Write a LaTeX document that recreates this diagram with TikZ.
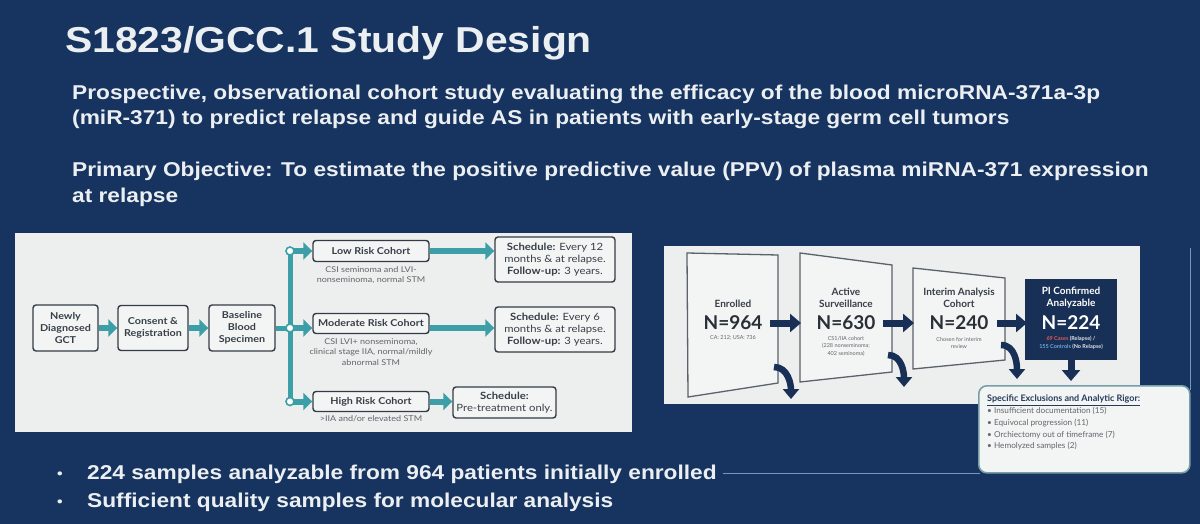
\documentclass[tikz,border=0pt]{standalone}
\usepackage{fontspec}
\setmainfont[FakeStretch=1.135]{Liberation Sans}
\newfontfamily\panelfont[FakeStretch=1.13]{Lato}
\newfontfamily\countfont{Lato}
\usetikzlibrary{arrows.meta,positioning,calc}
\definecolor{slidenavy}{RGB}{22,52,95}
\definecolor{slidetext}{RGB}{236,239,242}
\definecolor{panelgray}{RGB}{237,238,238}
\definecolor{boxfill}{RGB}{243,244,244}
\definecolor{boxline}{RGB}{50,60,70}
\definecolor{boxtext}{RGB}{55,63,72}
\definecolor{desctext}{RGB}{98,103,108}
\definecolor{flowteal}{RGB}{60,158,166}
\definecolor{flownavy}{RGB}{24,48,86}
\definecolor{trapline}{RGB}{90,98,106}
\definecolor{casered}{RGB}{224,88,96}
\definecolor{ctrlblue}{RGB}{112,166,222}
\definecolor{rigorline}{RGB}{118,160,166}
\definecolor{rigortitle}{RGB}{38,58,92}
\definecolor{thinrule}{RGB}{120,150,185}

\begin{document}
\begin{tikzpicture}[x=1pt,y=-1pt,
  stepbox/.style={draw=boxline,line width=1.4pt,rounded corners=3pt,fill=boxfill,text=boxtext,
    font=\panelfont\bfseries\fontsize{9.5}{12}\selectfont,align=center,inner sep=0pt},
  schedbox/.style={stepbox,font=\panelfont\fontsize{10}{12}\selectfont},
  desc/.style={text=desctext,font=\panelfont\fontsize{8}{10.5}\selectfont,align=center,inner sep=0pt},
  flowarrow/.style={draw=flowteal,line width=6pt,-{Triangle[width=17pt,length=9pt]}},
  tealline/.style={draw=flowteal,line width=5pt},
  junction/.style={circle,draw=flowteal,line width=1.6pt,fill=white,inner sep=0pt,minimum size=8pt},
  navyarrow/.style={draw=flownavy,line width=7pt,-{Triangle[width=18pt,length=11pt]}},
  bendarrow/.style={draw=flownavy,line width=6.5pt,-{Triangle[width=16pt,length=10pt]}},
  trapbox/.style={draw=trapline,line width=1.3pt,fill=boxfill},
  traptitle/.style={text=boxtext,font=\countfont\bfseries\fontsize{10}{12}\selectfont,align=center,inner sep=0pt},
  bigcount/.style={text=boxtext!75!black,font=\countfont\bfseries\fontsize{19}{19}\selectfont,inner sep=0pt},
  smallnote/.style={text=desctext,font=\countfont\fontsize{5.5}{7.5}\selectfont,align=center,inner sep=0pt},
  slideline/.style={text=slidetext,anchor=base west,inner sep=0pt}
]
\fill[slidenavy] (0,0) rectangle (1200,524);
\useasboundingbox (0,0) rectangle (1200,524);

\node[slideline,font=\bfseries\fontsize{36}{36}\selectfont] (title) at (65,53) {S1823/GCC.1 Study Design};
\node[slideline,font=\bfseries\fontsize{20}{20}\selectfont] (aim1) at (72,100) {Prospective, observational cohort study evaluating the efficacy of the blood microRNA-371a-3p};
\node[slideline,font=\bfseries\fontsize{20}{20}\selectfont] (aim2) at (72,125) {(miR-371) to predict relapse and guide AS in patients with early-stage germ cell tumors};
\node[slideline,font=\bfseries\fontsize{20}{20}\selectfont] (goal1) at (72,177) {Primary Objective: To estimate the positive predictive value (PPV) of plasma miRNA-371 expression};
\node[slideline,font=\bfseries\fontsize{20}{20}\selectfont] (goal2) at (72,203) {at relapse};

\fill[panelgray] (15,233) rectangle (632,432);
\fill[panelgray] (664,246) rectangle (1140,404);

\node[stepbox,minimum width=65pt,minimum height=46pt] (gct) at (65.5,328) {Newly\\Diagnosed\\GCT};
\node[stepbox,minimum width=70pt,minimum height=45pt] (consent) at (153,328) {Consent \&\\Registration};
\node[stepbox,minimum width=66pt,minimum height=46pt] (blood) at (242,328) {Baseline\\Blood\\Specimen};
\node[stepbox,minimum width=116pt,minimum height=21pt] (low) at (371,251) {Low Risk Cohort};
\node[stepbox,minimum width=116pt,minimum height=20pt] (moderate) at (371,323.5) {Moderate Risk Cohort};
\node[stepbox,minimum width=116pt,minimum height=20pt] (high) at (371,401.5) {High Risk Cohort};
\node[desc,below=4pt of low] (lowdesc) {CSI seminoma and LVI-\\nonseminoma, normal STM};
\node[desc,below=4pt of moderate] (moddesc) {CSI LVI+ nonseminoma,\\clinical stage IIA, normal/mildly\\abnormal STM};
\node[desc,below=3pt of high] (highdesc) {>IIA and/or elevated STM};
\node[schedbox,minimum width=120pt,minimum height=45pt] (lowsched) at (555,259.5) {\textbf{Schedule:} Every 12\\months \& at relapse.\\\textbf{Follow-up:} 3 years.};
\node[schedbox,minimum width=120pt,minimum height=45pt] (modsched) at (555,329.5) {\textbf{Schedule:} Every 6\\months \& at relapse.\\\textbf{Follow-up:} 3 years.};
\node[schedbox,minimum width=103pt,minimum height=31pt] (highsched) at (504.5,402.5) {\textbf{Schedule:}\\Pre-treatment only.};

\draw[flowarrow] (gct) -- (consent);
\draw[flowarrow] (consent) -- (blood);
\coordinate (split) at (290,328);
\coordinate (splittop) at (290,251);
\coordinate (splitbot) at (290,401.5);
\draw[tealline] (blood.east) -- (split);
\draw[tealline] (splittop) -- (splitbot);
\draw[flowarrow] (splittop) -- (low.west);
\draw[flowarrow] (split) -- (moderate.west |- split);
\draw[flowarrow] (splitbot) -- (high.west);
\node[junction] (jtop) at (splittop) {};
\node[junction] (jmid) at (split) {};
\node[junction] (jbot) at (splitbot) {};
\draw[flowarrow] (low.east) -- (lowsched.west |- low.east);
\draw[flowarrow] (moderate.east |- split) -- (modsched.west |- split);
\draw[flowarrow] (high.east) -- (highsched.west |- high.east);

\draw[thinrule,line width=1pt] (723,473) -- (980,473);
\draw[thinrule,line width=1pt] (1190,248) -- (1190,390);

\draw[trapbox] (687,253) -- (778,255) -- (778,383) -- (688,397) -- cycle;
\draw[trapbox] (800,253) -- (892,265) -- (892,372) -- (800,382) -- cycle;
\draw[trapbox] (913,268) -- (1005,278) -- (1005,360) -- (913,369) -- cycle;
\node[fill=flownavy,minimum width=92pt,minimum height=81pt,inner sep=0pt] (pibox) at (1071,319.5) {};

\node[traptitle] (enrolled) at (733,304) {Enrolled};
\node[bigcount] (n964) at (733,323) {N=964};
\node[smallnote] (enrollnote) at (733,338) {CA: 212; USA: 736};
\node[traptitle] (active) at (846,298) {Active\\Surveillance};
\node[bigcount] (n630) at (846,323) {N=630};
\node[smallnote] (activenote) at (846,346) {CS1/IIA cohort\\(228 nonseminoma;\\402 seminoma)};
\node[traptitle] (interim) at (959,298) {Interim Analysis\\Cohort};
\node[bigcount] (n240) at (959,323) {N=240};
\node[smallnote] (interimnote) at (959,343) {Chosen for interim\\review};
\node[traptitle,text=white] (confirmed) at (1071,298) {PI Confirmed\\Analyzable};
\node[bigcount,text=white] (n224) at (1071,323) {N=224};
\node[smallnote,text=white!85!flownavy,font=\countfont\bfseries\fontsize{5.5}{7.5}\selectfont] (pinote) at (1071,343) {\textcolor{casered}{69 Cases} (Relapse) /\\\textcolor{ctrlblue}{155 Controls} (No Relapse)};

\coordinate (enrolledout) at (770,323);
\coordinate (activein) at (801,323);
\coordinate (activeout) at (883,323);
\coordinate (interimin) at (914,323);
\coordinate (interimout) at (997,323);
\coordinate (piin) at (1027,323);
\draw[navyarrow] (enrolledout) -- (activein);
\draw[navyarrow] (activeout) -- (interimin);
\draw[navyarrow] (interimout) -- (piin);

\coordinate (enrolleddrop) at (774,367);
\coordinate (enrolledlost) at (791,399);
\coordinate (activedrop) at (888,355);
\coordinate (activelost) at (904,387);
\coordinate (interimdrop) at (1001,345);
\coordinate (interimlost) at (1017,379);
\draw[bendarrow] (enrolleddrop) to[out=0,in=90] (enrolledlost);
\draw[bendarrow] (activedrop) to[out=0,in=90] (activelost);
\draw[bendarrow] (interimdrop) to[out=0,in=90] (interimlost);
\coordinate (pilost) at (1071,381);
\draw[navyarrow] (pibox.south) -- (pilost);

\node[draw=rigorline,line width=1.6pt,rounded corners=8pt,fill=boxfill,minimum width=211pt,minimum height=87pt,anchor=north west,inner sep=0pt] (rigor) at (978,385) {};
\node[anchor=north west,align=left,inner sep=0pt,text=desctext,font=\countfont\fontsize{8.2}{11.7}\selectfont] (rigortext) at (987,395) {\textcolor{rigortitle}{\fontsize{9}{11.7}\selectfont\bfseries\underline{Specific Exclusions and Analytic Rigor:}}\\
• Insufficient documentation (15)\\
• Equivocal progression (11)\\
• Orchiectomy out of timeframe (7)\\
• Hemolyzed samples (2)};

\node[slideline,font=\bfseries\fontsize{14}{14}\selectfont] (dot1) at (57,478) {•};
\node[slideline,font=\bfseries\fontsize{20}{20}\selectfont] (point1) at (87,479) {224 samples analyzable from 964 patients initially enrolled};
\node[slideline,font=\bfseries\fontsize{14}{14}\selectfont] (dot2) at (57,506) {•};
\node[slideline,font=\bfseries\fontsize{20}{20}\selectfont] (point2) at (87,507) {Sufficient quality samples for molecular analysis};
\end{tikzpicture}
\end{document}
